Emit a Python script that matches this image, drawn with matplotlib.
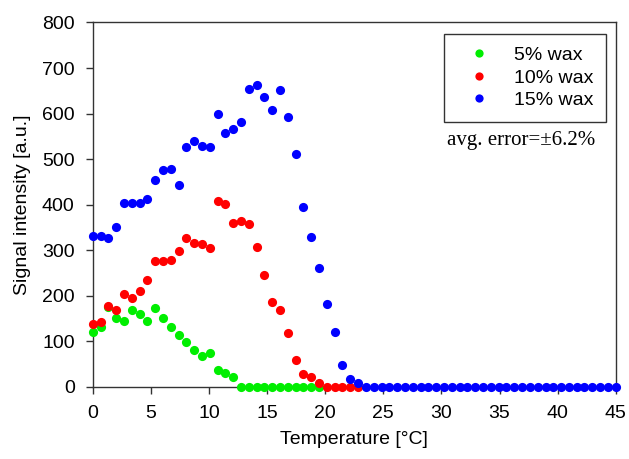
import matplotlib
matplotlib.use("Agg")
import matplotlib.pyplot as plt

plt.rcParams['font.family'] = ['Liberation Sans', 'DejaVu Sans']

temperature = [0.00, 0.67, 1.34, 2.01, 2.69, 3.36, 4.03, 4.70, 5.37, 6.04,
               6.72, 7.39, 8.06, 8.73, 9.40, 10.07, 10.75, 11.42, 12.09, 12.76,
               13.43, 14.10, 14.78, 15.45, 16.12, 16.79, 17.46, 18.13, 18.81, 19.48,
               20.15, 20.82, 21.49, 22.16, 22.84, 23.51, 24.18, 24.85, 25.52, 26.19,
               26.87, 27.54, 28.21, 28.88, 29.55, 30.22, 30.90, 31.57, 32.24, 32.91,
               33.58, 34.25, 34.93, 35.60, 36.27, 36.94, 37.61, 38.28, 38.96, 39.63,
               40.30, 40.97, 41.64, 42.31, 42.99, 43.66, 44.33, 45.00]

wax5 = [121, 132, 176, 150, 144, 168, 159, 145, 173, 151,
        132, 113, 99, 80, 68, 74, 36, 31, 22, 0,
        0, 0, 0, 0, 0, 0, 0, 0, 0, 0]

wax10 = [137, 143, 177, 168, 204, 195, 211, 234, 276, 276,
         278, 298, 327, 315, 314, 305, 409, 402, 359, 363,
         357, 307, 245, 186, 169, 117, 58, 29, 22, 9,
         0, 0, 0, 0, 0]

wax15 = [330, 330, 327, 350, 403, 403, 403, 412, 455, 475,
         478, 442, 526, 540, 529, 526, 599, 558, 567, 582,
         654, 662, 637, 607, 652, 593, 511, 395, 329, 261,
         181, 120, 48, 17, 9, 0, 0, 0, 0, 0,
         0, 0, 0, 0, 0, 0, 0, 0, 0, 0,
         0, 0, 0, 0, 0, 0, 0, 0, 0, 0,
         0, 0, 0, 0, 0, 0, 0, 0]

labels = ['5% wax', '10% wax', '15% wax']
colors = ['#00ee00', '#ff0000', '#0000ff']
xticks = [0, 5, 10, 15, 20, 25, 30, 35, 40, 45]
yticks = [0, 100, 200, 300, 400, 500, 600, 700, 800]

fig = plt.figure(figsize=(6.29, 4.59), dpi=100)
ax = fig.add_axes([0.1474, 0.1575, 0.8315, 0.7935])

series = [wax5, wax10, wax15]
for k, (ys, lab, col) in enumerate(zip(series, labels, colors)):
    ax.plot(temperature[:len(ys)], ys, linestyle='none', marker='o',
            markersize=6.6, color=col, markeredgewidth=0, label=lab,
            clip_on=False, zorder=3 + k)

ax.set_xlim(0, 45)
ax.set_ylim(0, 800)
ax.set_xticks(xticks)
ax.set_yticks(yticks)
ax.tick_params(direction='out', length=5, width=1, labelsize=14, pad=8, color='#333333')
for s in ax.spines.values():
    s.set_linewidth(1.0)
    s.set_color('#333333')

ax.set_xlabel('Temperature [°C]', fontsize=14, labelpad=7)
ax.set_ylabel('Signal intensity [a.u.]', fontsize=14, labelpad=8)

leg = ax.legend(loc='upper right', bbox_to_anchor=(0.9815, 0.969), fontsize=14,
                frameon=True, fancybox=False, edgecolor='#333333', framealpha=1,
                handletextpad=0.67, labelspacing=0.25, borderpad=0.65,
                handlelength=2.3, markerscale=0.9, borderaxespad=0)
leg.get_frame().set_linewidth(1.0)

ax.text(0.677, 0.664, 'avg. error=±6.2%', transform=ax.transAxes,
        fontsize=15, family=['Liberation Serif', 'DejaVu Serif'], ha='left', va='baseline')

fig.savefig('out.png', dpi=100)
